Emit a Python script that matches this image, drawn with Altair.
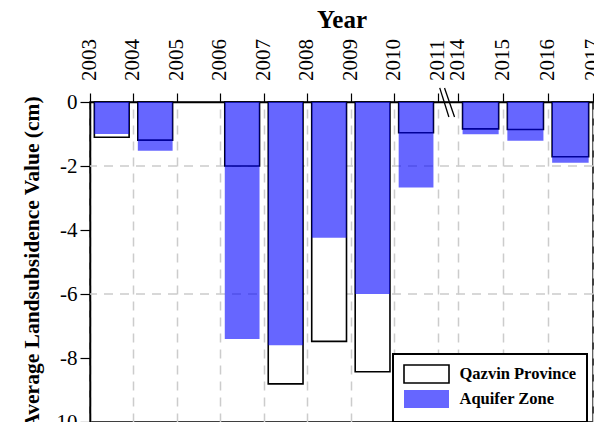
import altair as alt
import pandas as pd

# Tick labels on the top axis and their positions (gap between 2011 and 2014 = axis break)
tick_labels = ["2003", "2004", "2005", "2006", "2007", "2008", "2009", "2010", "2011",
               "2014", "2015", "2016", "2017"]
tick_pos = [0, 1, 2, 3, 4, 5, 6, 7, 8, 8.47, 9.5, 10.53, 11.57]

# Bars span from one year tick to the next
bar_start = ["2003", "2004", "2006", "2007", "2008", "2009", "2010", "2014", "2015", "2016"]
qazvin = [-1.10, -1.19, -2.00, -8.81, -7.48, -8.43, -0.96, -0.84, -0.86, -1.71]
aquifer = [-1.00, -1.52, -7.41, -7.60, -4.24, -6.00, -2.67, -1.01, -1.21, -1.90]
series = ["Qazvin Province", "Aquifer Zone"]

y_ticks = [0, -2, -4, -6, -8, -10]
grid_y = [-2, -6]

gap = 0.1
pos = dict(zip(tick_labels, tick_pos))
nxt = {tick_labels[i]: tick_pos[i + 1] for i in range(len(tick_labels) - 1)}
rows = []
for s, vals in zip(series, [qazvin, aquifer]):
    for st, v in zip(bar_start, vals):
        rows.append({"series": s, "x0": pos[st] + gap, "x1": nxt[st] - gap, "v": v})
df = pd.DataFrame(rows)

# axis-break marks between 2011 and 2014
mid = (pos["2011"] + pos["2014"]) / 2
brk = pd.DataFrame({
    "x0": [mid - 0.19, mid - 0.08],
    "x1": [mid + 0.02, mid + 0.15],
    "v": [0.44, 0.44],
    "v2": [-0.47, -0.47],
})
ticks_df = pd.DataFrame({"x0": tick_pos, "lab": tick_labels})

FONT = "Liberation Serif"
xscale = alt.Scale(domain=[0, tick_pos[-1]], nice=False, zero=False)
yscale = alt.Scale(domain=[-10, 0], nice=False, zero=False)

xaxis = alt.Axis(
    orient="top", values=tick_pos, labels=False, title="Year",
    titleFont=FONT, titleFontSize=25, titleFontWeight="bold", titleColor="black",
    titlePadding=60,
    tickSize=9, tickColor="black", tickWidth=1.2,
    domainColor="black", domainWidth=1.5,
    grid=True, gridColor="#cccccc", gridDash=[9, 7], gridWidth=1.5,
)
yaxis = alt.Axis(
    values=y_ticks, labelExpr="'' + datum.value", title="Average Landsubsidence Value (cm)",
    labelFont=FONT, labelFontSize=21, labelColor="black", labelPadding=3,
    titleFont=FONT, titleFontSize=21.5, titleFontWeight="bold", titleColor="black",
    titlePadding=6,
    tickSize=10, tickColor="black", tickWidth=1.2,
    domainColor="black", domainWidth=1.5, grid=False,
)

grid = alt.Chart(pd.DataFrame({"v": grid_y})).mark_rule(
    color="#cccccc", strokeDash=[9, 7], strokeWidth=1.5
).encode(y=alt.Y("v:Q", scale=yscale, axis=None))

bars = alt.Chart(df).mark_rect(strokeWidth=1.6).encode(
    x=alt.X("x0:Q", scale=xscale, axis=xaxis),
    x2="x1:Q",
    y=alt.Y("v:Q", scale=yscale, axis=yaxis),
    y2=alt.datum(0),
    fill=alt.Fill("series:N", scale=alt.Scale(domain=series, range=["#ffffff", "rgba(0,0,255,0.6)"]),
                  legend=alt.Legend(title=None, orient="none", legendX=303, legendY=252)),
    stroke=alt.Stroke("series:N", scale=alt.Scale(domain=series, range=["#000000", "transparent"]),
                      legend=alt.Legend(title=None, orient="none", legendX=303, legendY=252)),
)

breaks = alt.Chart(brk).mark_rule(color="black", strokeWidth=1.3).encode(
    x=alt.X("x0:Q", scale=xscale, axis=None),
    x2="x1:Q",
    y=alt.Y("v:Q", scale=yscale, axis=None),
    y2="v2:Q",
)

year_labels = alt.Chart(ticks_df).mark_text(
    angle=270, align="left", baseline="middle", font=FONT, fontSize=21, color="black"
).encode(
    x=alt.X("x0:Q", scale=xscale, axis=None),
    y=alt.value(-21),
    text="lab:N",
)

chart = alt.layer(grid, bars, breaks, year_labels).resolve_axis(
    x="independent", y="independent"
).properties(
    width=503, height=320,
    autosize=alt.AutoSizeParams(type="none"),
    padding={"left": 82, "top": 94, "right": 1, "bottom": 0},
).configure_view(
    stroke="black", strokeWidth=1.5
).configure_legend(
    strokeColor="black", strokeWidth=2, padding=10, fillColor="white",
    labelFont=FONT, labelFontSize=16.5, labelFontWeight="bold", labelColor="black",
    symbolType="M-2.5,-1H2.5V1H-2.5Z", symbolSize=324, symbolStrokeWidth=1.6,
    symbolOffset=13.5, labelOffset=23, rowPadding=-1,
)

chart.save("out.html", embed_options={"renderer": "svg", "actions": False})
